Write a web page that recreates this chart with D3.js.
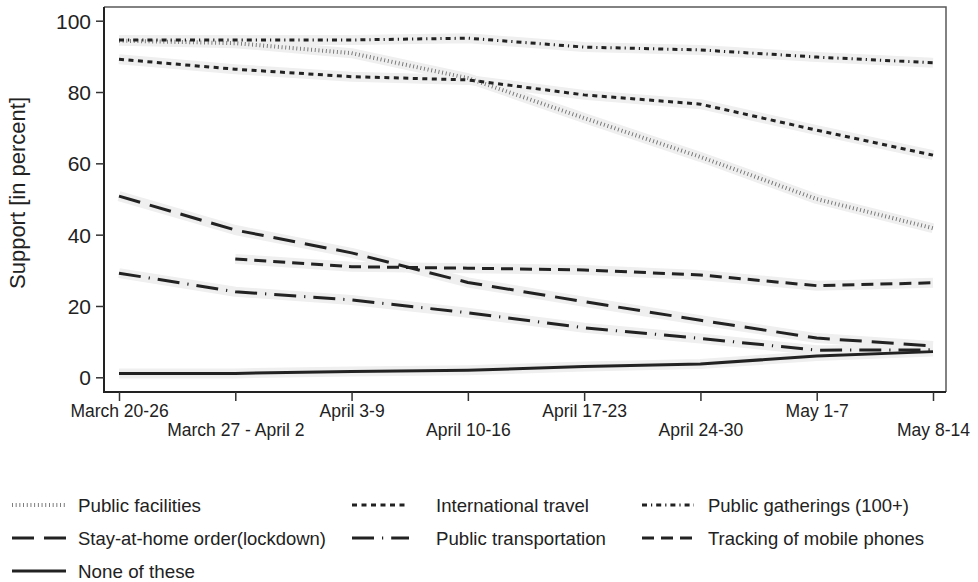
<!DOCTYPE html>
<html>
<head>
<meta charset="utf-8">
<script src="https://cdn.jsdelivr.net/npm/d3@7"></script>
<style>
  body { margin: 0; background: #fff; }
  svg { display: block; font-family: "Liberation Sans", Arial, sans-serif; }
</style>
</head>
<body>
<div id="chart"></div>
<script>
// categories (weeks) and series, values in percent
var weeks = ['March 20-26', 'March 27 - April 2', 'April 3-9', 'April 10-16',
             'April 17-23', 'April 24-30', 'May 1-7', 'May 8-14'];
var yTicks = [0, 20, 40, 60, 80, 100];

var publicFacilities   = [94.4, 93.7, 90.9, 83.9, 72.7, 61.8, 50.0, 41.8];
var internationalTravel = [89.2, 86.4, 84.3, 83.4, 79.2, 76.6, 69.3, 62.3];
var publicGatherings   = [94.6, 94.6, 94.6, 95.1, 92.6, 91.8, 89.8, 88.2];
var stayAtHome         = [50.8, 41.3, 34.9, 26.6, 21.2, 16.0, 11.0, 8.8];
var publicTransport    = [29.2, 24.0, 21.7, 18.1, 13.9, 10.9, 7.6, 7.7];
var trackingPhones     = [null, 33.2, 31.0, 30.6, 30.1, 28.7, 25.7, 26.5];
var noneOfThese        = [1.1, 1.1, 1.6, 2.0, 3.0, 3.7, 6.0, 7.2];

var seriesNames = ['Public facilities', 'International travel', 'Public gatherings (100+)',
                   'Stay-at-home order(lockdown)', 'Public transportation',
                   'Tracking of mobile phones', 'None of these'];
var seriesValues = [publicFacilities, internationalTravel, publicGatherings,
                    stayAtHome, publicTransport, trackingPhones, noneOfThese];

// line styles
var styles = [
  {dash: '0.9,2.8', width: 4, color: '#707070'},
  {dash: '5,4.5', width: 3, color: '#222'},
  {dash: '5,4,1.2,4', width: 3, color: '#222'},
  {dash: '22,10', width: 3, color: '#222'},
  {dash: '22,8,1.2,8', width: 3, color: '#222'},
  {dash: '12,7', width: 3, color: '#222'},
  {dash: null, width: 3, color: '#222'}
];
var legendTextW = [123, 153, 201, 248, 170, 216, 117];

var W = 978, H = 582;
var frame = {left: 104, right: 946, top: 7, bottom: 392};

var svg = d3.select('#chart').append('svg')
  .attr('width', W).attr('height', H);

var x = d3.scalePoint().domain(weeks).range([119, 933]);
var y = d3.scaleLinear().domain([0, 100]).range([377.3, 20.7]);

// frame top / right
svg.append('path')
  .attr('d', 'M' + frame.left + ',' + frame.top + 'H' + frame.right + 'V' + frame.bottom)
  .attr('fill', 'none').attr('stroke', '#5a5a5a').attr('stroke-width', 1.5);

// bands behind the lines
var line = d3.line()
  .defined(function(d){ return d !== null; })
  .x(function(d, i){ return x(weeks[i]); })
  .y(function(d){ return y(d); });

seriesValues.forEach(function(vals){
  svg.append('path')
    .attr('d', line(vals))
    .attr('fill', 'none')
    .attr('stroke', '#efefef')
    .attr('stroke-width', 10)
    .attr('stroke-linejoin', 'round');
});

seriesValues.forEach(function(vals, k){
  var st = styles[k];
  svg.append('path')
    .attr('d', line(vals))
    .attr('fill', 'none')
    .attr('stroke', st.color)
    .attr('stroke-width', st.width)
    .attr('stroke-dasharray', st.dash)
    .attr('stroke-linejoin', 'round');
});

// y axis
var yAxis = svg.append('g')
  .attr('transform', 'translate(' + frame.left + ',0)')
  .call(d3.axisLeft(y).tickValues(yTicks).tickSize(8).tickPadding(5));
yAxis.select('.domain')
  .attr('d', 'M0,' + frame.top + 'V' + frame.bottom)
  .attr('stroke', '#222').attr('stroke-width', 2);
yAxis.selectAll('.tick line').attr('stroke', '#333').attr('stroke-width', 1.5);
yAxis.selectAll('.tick text')
  .attr('font-size', 21).attr('fill', '#222').attr('dy', '0.36em')
  .style('font-family', '"Liberation Sans", Arial, sans-serif');

// x axis
var xAxis = svg.append('g')
  .attr('transform', 'translate(0,' + frame.bottom + ')')
  .call(d3.axisBottom(x).tickSize(9).tickPadding(5));
xAxis.select('.domain')
  .attr('d', 'M' + (frame.left - 1) + ',0H' + frame.right)
  .attr('stroke', '#222').attr('stroke-width', 2);
xAxis.selectAll('.tick line').attr('stroke', '#333').attr('stroke-width', 1.5);
xAxis.selectAll('.tick text')
  .attr('font-size', 17.5).attr('fill', '#222')
  .style('font-family', '"Liberation Sans", Arial, sans-serif')
  .attr('y', function(d, i){ return i % 2 === 0 ? 13 : 32; })
  .attr('dy', '0.71em');

// y title
svg.append('text')
  .attr('transform', 'translate(25,193) rotate(-90)')
  .attr('text-anchor', 'middle')
  .attr('font-size', 22).attr('fill', '#222')
  .text('Support [in percent]');

// legend
var colSwatch = [[12, 66], [352, 409], [642, 694]];
var colText = [78, 436, 708];
var rowY = [505, 538, 571];

seriesNames.forEach(function(name, k){
  var col = k % 3, row = Math.floor(k / 3);
  var st = styles[k];
  var g = svg.append('g');
  g.append('line')
    .attr('x1', colSwatch[col][0]).attr('x2', colSwatch[col][1])
    .attr('y1', rowY[row]).attr('y2', rowY[row])
    .attr('stroke', st.color)
    .attr('stroke-width', st.width)
    .attr('stroke-dasharray', st.dash);
  g.append('text')
    .attr('x', colText[col]).attr('y', rowY[row])
    .attr('dy', '0.36em')
    .attr('font-size', 19).attr('fill', '#222')
    .attr('textLength', legendTextW[k])
    .attr('lengthAdjust', 'spacingAndGlyphs')
    .style('font-family', '"Liberation Sans Narrow", "Liberation Sans", Arial, sans-serif')
    .text(name);
});
</script>
</body>
</html>
